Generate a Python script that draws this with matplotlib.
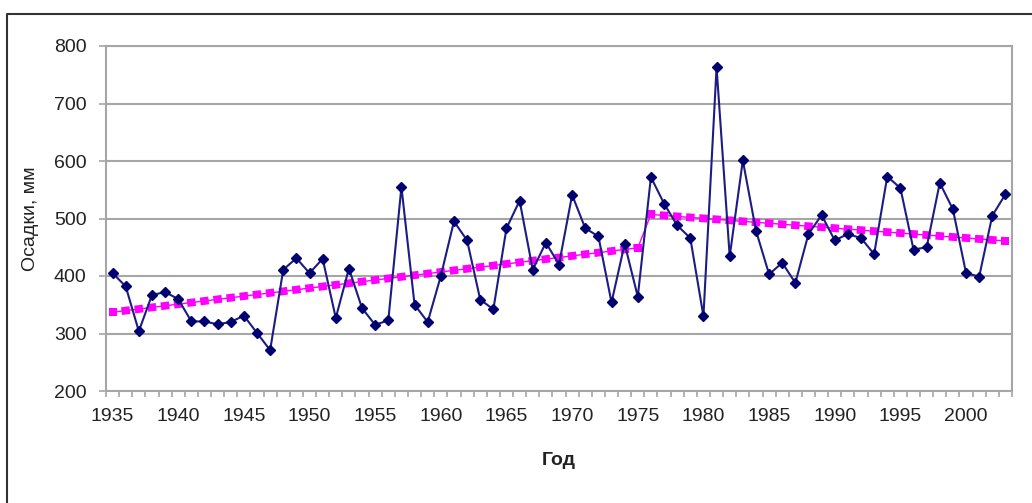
import numpy as np
import matplotlib
matplotlib.use('Agg')
import matplotlib.pyplot as plt
from matplotlib.lines import Line2D

# years and precipitation, mm
years = list(range(1935, 2004))
rain = [405, 382, 304, 367, 372, 360, 321, 321, 316, 320,
        331, 301, 271, 411, 431, 405, 430, 327, 413, 344,
        315, 323, 555, 350, 320, 400, 495, 462, 359, 342,
        483, 531, 411, 458, 420, 541, 483, 469, 354, 456,
        364, 572, 526, 488, 466, 330, 763, 434, 601, 479,
        403, 423, 388, 473, 506, 462, 473, 466, 438, 573,
        553, 446, 450, 562, 516, 405, 399, 505, 542]

# trend lines (start / end of each period)
trend1_years = [1935, 1975]
trend1_vals = [337, 449]
trend2_years = [1976, 2003]
trend2_vals = [507, 461]

y_ticks = [200, 300, 400, 500, 600, 700, 800]
x_labels = list(range(1935, 2001, 5))

plt.rcParams['font.family'] = ['Liberation Sans', 'DejaVu Sans']

W, H = 1032, 503
DPI = 100
fig = plt.figure(figsize=(W / DPI, H / DPI), dpi=DPI)
ax = fig.add_axes([106 / W, 1 - 391 / H, (1012 - 106) / W, (391 - 46) / H])

grid_c = '#a6a6a6'
pink = '#ff00ff'

ax.set_xlim(1934.5, 2003.5)
ax.set_ylim(200, 800)

sq_lw = 5.6      # pt, height of the squares
sq_w = 6.1       # pt, width of the squares

# thin connecting line of the trend series, square markers at the ends
ax.plot(trend1_years + trend2_years, trend1_vals + trend2_vals, color=pink,
        lw=1.0, zorder=2)
ax.plot(trend1_years + trend2_years, trend1_vals + trend2_vals, ls='none',
        marker='s', markersize=sq_lw, markerfacecolor=pink,
        markeredgewidth=0, zorder=2)

# square "dots" one per year along each trend segment
for ty, tv in [(trend1_years, trend1_vals), (trend2_years, trend2_vals)]:
    p = ax.transData.transform(np.column_stack([ty, tv]))
    seg_len = np.hypot(*(p[1] - p[0])) * 72.0 / DPI
    period = seg_len / (ty[1] - ty[0])
    on = sq_w / sq_lw
    off = period / sq_lw - on
    ax.plot(ty, tv, color=pink, lw=sq_lw, solid_capstyle='butt',
            dash_capstyle='butt', linestyle=(on / 2, (on, off)), zorder=2)

ax.plot(years, rain, color='#1c1c82', lw=1.5, marker='D', markersize=5.5,
        markerfacecolor='#000070', markeredgecolor='#000070', zorder=3)

ax.set_yticks(y_ticks)
ax.set_yticklabels([str(v) for v in y_ticks])
ax.set_xticks(x_labels)
ax.set_xticklabels([str(v) for v in x_labels])
ax.set_xticks(np.arange(1934.5, 2004, 1), minor=True)

ax.tick_params(axis='x', which='major', length=0, pad=12, labelsize=14,
               labelcolor='#222222')
ax.tick_params(axis='x', which='minor', length=4, width=1.2, color=grid_c,
               direction='out')
ax.tick_params(axis='y', which='major', length=5, width=1.2, color=grid_c,
               pad=9, labelsize=14, labelcolor='#222222')

ax.grid(axis='y', color=grid_c, lw=1.5)
ax.set_axisbelow(True)
for s in ['left', 'bottom', 'right', 'top']:
    ax.spines[s].set_color(grid_c)
    ax.spines[s].set_linewidth(1.5)

ax.set_ylabel('Осадки, мм', fontsize=14, color='#222222', labelpad=11)
ax.set_xlabel('Год', fontsize=14, fontweight='bold', color='#222222',
              labelpad=20)

# outer chart frame (left and top edge visible)
fig.add_artist(Line2D([7 / W, 7 / W, 1.0], [0.0, 1 - 14 / H, 1 - 14 / H],
                      color='#333333', lw=1.5, transform=fig.transFigure))

fig.savefig('out.png', dpi=DPI)
